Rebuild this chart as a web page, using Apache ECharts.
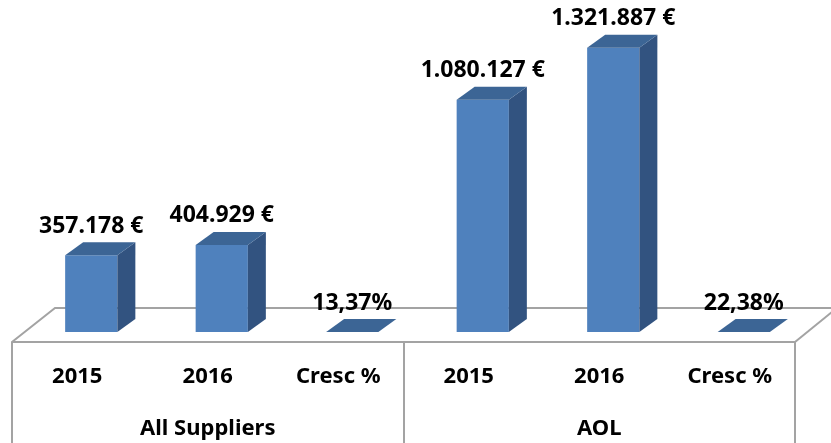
<!DOCTYPE html>
<html>
<head>
<meta charset="utf-8">
<script src="https://cdn.jsdelivr.net/npm/echarts@6/dist/echarts.min.js"></script>
<style>
  html, body { margin: 0; padding: 0; background: #fff; }
  #chart { width: 831px; height: 443px; }
</style>
</head>
<body>
<div id="chart"></div>
<script>
// data
const categories = ['2015', '2016', 'Cresc %', '2015', '2016', 'Cresc %']
const groups = ['All Suppliers', 'AOL']
const values = [357178, 404929, 0.1337, 1080127, 1321887, 0.2238]
const isPercent = [false, false, true, false, false, true]

const FONT = '"Noto Sans", "DejaVu Sans", sans-serif'
const depthX = 18
const depthY = -13

function fmtLabel(i, v) {
  if (isPercent[i]) {
    return (v * 100).toFixed(2).replace('.', ',') + '%'
  }
  return Math.round(v).toString().replace(/\B(?=(\d{3})+(?!\d))/g, '.') + ' €'
}

function renderBar(params, api) {
  const idx = api.value(0)
  const v = api.value(1)
  const top = api.coord([idx, v])
  const base = api.coord([idx, 0])
  const bw = api.size([1, 0])[0] * 0.4
  const x0 = top[0] - bw / 2
  const x1 = top[0] + bw / 2
  const yt = top[1]
  const yb = base[1]
  return {
    type: 'group',
    children: [
      {
        type: 'rect',
        shape: { x: x0, y: yt, width: bw, height: yb - yt },
        style: { fill: '#4f81bd' },
      },
      {
        type: 'polygon',
        shape: { points: [[x1, yt], [x1 + depthX, yt + depthY], [x1 + depthX, yb + depthY], [x1, yb]] },
        style: { fill: '#325380' },
      },
      {
        type: 'polygon',
        shape: { points: [[x0, yt], [x0 + depthX, yt + depthY], [x1 + depthX, yt + depthY], [x1, yt]] },
        style: { fill: '#3c6595' },
      },
      {
        type: 'text',
        x: top[0],
        y: yt - 29,
        style: {
          text: fmtLabel(idx, v),
          align: 'center',
          verticalAlign: 'middle',
          fontSize: 23,
          fontWeight: 'bold',
          fontFamily: FONT,
          fill: '#000',
        },
      },
    ],
  }
}

const chart = echarts.init(document.getElementById('chart'))
const lineColor = '#a3a3a3'

chart.setOption({
  animation: false,
  grid: [
    { left: 26, right: 22, top: 9.5, bottom: 111 },
    { left: 12, right: 36, top: 300, bottom: 101 },
  ],
  xAxis: [
    {
      gridIndex: 0,
      type: 'category',
      data: categories,
      axisLine: { show: false },
      axisTick: { show: false },
      axisLabel: { show: false },
    },
    {
      gridIndex: 1,
      type: 'category',
      data: categories,
      axisLine: { show: true, lineStyle: { color: lineColor, width: 2 } },
      axisTick: { show: false },
      axisLabel: { margin: 24, fontSize: 22, fontWeight: 'bold', fontFamily: FONT, color: '#000' },
    },
    {
      gridIndex: 1,
      type: 'category',
      data: groups,
      position: 'bottom',
      axisLine: { show: false },
      axisTick: { show: true, length: 101, lineStyle: { color: lineColor, width: 2 } },
      axisLabel: { margin: 76, fontSize: 22, fontWeight: 'bold', fontFamily: FONT, color: '#000' },
    },
  ],
  yAxis: [
    { gridIndex: 0, type: 'value', min: 0, max: 1500000, show: false },
    { gridIndex: 1, type: 'value', show: false },
  ],
  graphic: [
    {
      type: 'polyline',
      z: 0,
      shape: { points: [[12, 342], [55, 308], [840, 308]] },
      style: { stroke: lineColor, lineWidth: 2, fill: null },
    },
    {
      type: 'polyline',
      z: 0,
      shape: { points: [[795, 342], [838, 307]] },
      style: { stroke: lineColor, lineWidth: 2, fill: null },
    },
  ],
  series: [
    {
      type: 'custom',
      xAxisIndex: 0,
      yAxisIndex: 0,
      z: 5,
      renderItem: renderBar,
      data: values.map((v, i) => [i, v]),
    },
  ],
})
</script>
</body>
</html>
